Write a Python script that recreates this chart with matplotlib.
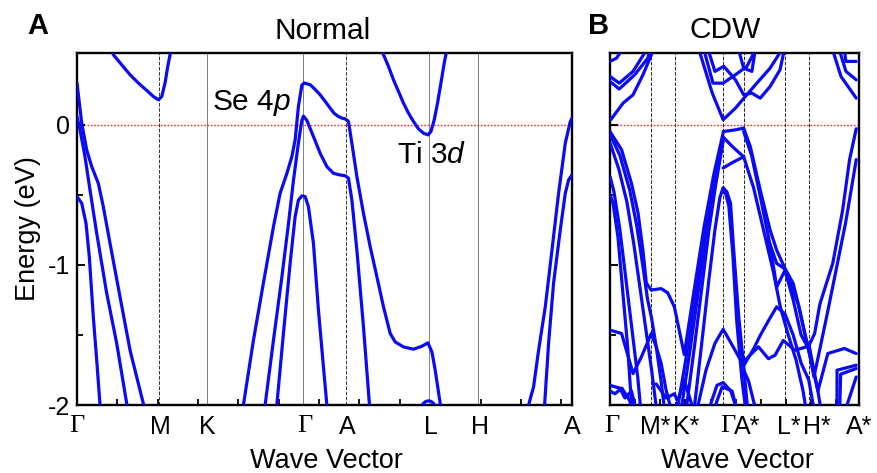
import matplotlib
matplotlib.use("Agg")
import matplotlib.pyplot as plt

plt.rcParams["font.family"] = ["Liberation Sans", "DejaVu Sans"]
plt.rcParams["mathtext.fontset"] = "custom"
plt.rcParams["mathtext.rm"] = "Liberation Sans"
plt.rcParams["mathtext.it"] = "Liberation Sans:italic"
plt.rcParams["axes.unicode_minus"] = False

# ---- Normal phase, (k path position, energy eV) ----
n_cb_m = [(34.5, 0.53), (36.3, 0.498), (44.7, 0.426), (53.0, 0.355), (61.3, 0.296), (69.7, 0.243),
          (76.3, 0.20), (81.3, 0.176), (84.7, 0.20), (88.0, 0.296), (90.7, 0.414), (93.0, 0.498), (93.8, 0.53)]
n_cb_l = [(305.0, 0.53), (306.3, 0.498), (311.3, 0.414), (316.3, 0.319), (321.3, 0.236), (326.3, 0.152),
          (331.3, 0.081), (336.3, 0.021), (341.3, -0.031), (346.3, -0.062), (350.7, -0.074), (353.7, -0.05),
          (357.0, 0.033), (360.3, 0.152), (363.7, 0.296), (367.0, 0.438), (369.5, 0.53)]
n_g0_top = [(0.0, 0.296), (4.7, 0.01), (9.7, -0.181), (14.7, -0.30), (21.3, -0.419), (26.3, -0.586),
            (33.0, -0.847), (43.0, -1.229), (53.0, -1.609), (66.3, -1.99), (67.0, -2.03)]
n_g0_mid = [(0.0, 0.057), (3.0, -0.038), (8.0, -0.229), (13.0, -0.467), (19.7, -0.776), (29.7, -1.204),
            (39.7, -1.561), (49.7, -1.99), (50.2, -2.03)]
n_g0_low = [(0.0, -0.514), (4.7, -0.561), (9.0, -0.704), (12.3, -0.943), (16.3, -1.371), (19.7, -1.68),
            (23.0, -2.0), (23.3, -2.03)]
n_g1 = [(165.5, -2.03), (166.3, -2.0), (176.3, -1.54), (186.3, -1.13), (196.3, -0.73), (203.0, -0.49),
        (209.7, -0.35), (214.7, -0.23), (218.0, -0.11), (221.3, 0.13), (224.7, 0.28), (227.0, 0.296),
        (233.0, 0.284), (238.0, 0.25), (243.0, 0.212), (248.0, 0.165), (253.0, 0.117), (257.0, 0.08),
        (261.3, 0.057), (265.0, 0.045), (268.0, 0.04), (271.3, 0.022), (274.7, -0.133), (279.7, -0.371),
        (286.3, -0.633), (293.0, -0.871), (299.7, -1.085), (306.3, -1.30), (313.0, -1.49), (318.0, -1.55),
        (326.3, -1.586), (336.3, -1.602), (344.7, -1.581), (350.7, -1.557), (354.7, -1.621), (358.0, -1.752),
        (363.0, -1.99), (363.5, -2.03)]
n_g2 = [(187.5, -2.03), (188.0, -2.0), (196.3, -1.54), (204.7, -1.09), (211.3, -0.71), (216.3, -0.40),
        (221.3, -0.13), (224.7, 0.03), (226.3, 0.06), (229.7, 0.03), (236.3, -0.086), (243.0, -0.205),
        (249.7, -0.30), (256.3, -0.348), (263.0, -0.36), (268.0, -0.365), (271.3, -0.383), (274.7, -0.538),
        (279.7, -0.895), (286.3, -1.443), (292.3, -2.0), (292.6, -2.03)]
n_g3 = [(199.3, -2.03), (199.7, -2.0), (206.3, -1.49), (213.0, -0.99), (218.0, -0.657), (221.3, -0.538),
        (224.7, -0.509), (228.0, -0.514), (231.3, -0.586), (236.3, -0.847), (241.3, -1.324), (246.3, -1.729),
        (249.7, -2.0), (250.0, -2.03)]
n_l_arc = [(343.0, -2.03), (346.0, -1.99), (348.5, -1.975), (351.3, -1.97), (354.0, -1.975), (356.5, -1.99),
           (359.5, -2.03)]
n_a1 = [(450.5, -2.03), (451.3, -2.0), (456.3, -1.87), (461.3, -1.61), (468.0, -1.30), (474.7, -0.895),
        (481.3, -0.49), (488.0, -0.133), (493.0, 0.021), (494.7, 0.046)]
n_a2 = [(467.0, -2.03), (467.3, -2.0), (471.3, -1.56), (476.3, -1.13), (483.0, -0.75), (488.0, -0.49),
        (491.3, -0.395), (494.7, -0.359)]

NORMAL_KMAX = 494.7
NORMAL_LABELS = ["\u0393", "M", "K", "\u0393", "A", "L", "H", "A"]
NORMAL_POS = [0.0, 82.3, 129.7, 226.3, 269.0, 351.3, 400.7, 494.7]

# ---- CDW phase ----
c01 = [(0.7, 0.034), (13.3, 0.153), (23.3, 0.212), (33.3, 0.355), (41.7, 0.495), (43.0, 0.53)]
c02 = [(0.0, 0.45), (6.7, 0.474), (11.7, 0.53)]
c03 = [(0.0, 0.343), (9.3, 0.295), (23.3, 0.379), (36.7, 0.53)]
c04 = [(0.0, 0.307), (9.3, 0.253), (25.0, 0.355), (38.3, 0.474), (40.0, 0.53)]
c05 = [(90.0, 0.53), (103.3, 0.224), (114.3, 0.034), (126.7, 0.117), (136.7, 0.20), (148.3, 0.295),
       (161.7, 0.402), (173.3, 0.53)]
c06 = [(95.0, 0.53), (104.0, 0.295), (114.3, 0.295), (126.7, 0.355), (138.3, 0.415), (146.7, 0.53)]
c07 = [(99.3, 0.53), (106.0, 0.379), (115.0, 0.415), (126.7, 0.319), (135.0, 0.212), (143.3, 0.224),
       (151.7, 0.188), (161.7, 0.271), (171.7, 0.39), (176.0, 0.53)]
c08 = [(130.0, 0.53), (135.0, 0.402), (143.3, 0.379), (146.7, 0.53)]
c09 = [(225.0, 0.53), (233.3, 0.343), (248.7, 0.188)]
c10 = [(231.7, 0.53), (238.3, 0.379), (248.7, 0.319)]
c11 = [(236.7, 0.53), (238.3, 0.45), (248.7, 0.45)]
c12 = [(0.0, -0.05), (11.7, -0.18), (21.7, -0.42), (28.3, -0.63), (33.3, -0.90), (36.7, -1.13),
       (41.7, -1.18), (51.7, -1.17), (58.3, -1.20), (65.0, -1.30), (75.0, -1.64), (85.0, -1.18),
       (95.0, -0.73), (105.0, -0.35), (114.3, -0.06)]
c13 = [(0.0, -0.07), (10.0, -0.22), (20.0, -0.47), (27.0, -0.72), (33.0, -1.0), (38.0, -1.25),
       (42.0, -1.38), (47.0, -1.60), (52.0, -1.85), (55.0, -2.03)]
c14 = [(0.0, -0.13), (9.0, -0.32), (17.0, -0.55), (24.0, -0.85), (30.0, -1.15), (36.0, -1.45),
       (42.0, -1.75), (47.0, -2.03)]
c15 = [(0.0, -0.37), (4.0, -0.48), (10.0, -0.75), (16.0, -1.10), (22.0, -1.45), (28.0, -1.80), (31.0, -2.03)]
c16 = [(0.0, -0.50), (3.0, -0.56), (8.0, -0.80), (13.0, -1.20), (18.0, -1.60), (22.0, -2.03)]
c17 = [(0.0, -1.466), (11.7, -1.49), (23.3, -1.776), (31.7, -1.657), (41.7, -1.49), (46.7, -1.585),
       (51.7, -1.704), (56.7, -1.895), (61.7, -2.03)]
c18 = [(0.0, -1.86), (10.0, -1.88), (15.0, -1.95), (21.7, -1.90), (26.0, -2.03)]
c19 = [(72.0, -2.03), (80.0, -1.65), (88.0, -1.25), (96.0, -0.85), (104.0, -0.50), (110.0, -0.25),
       (114.3, -0.09)]
c20 = [(77.0, -2.03), (85.0, -1.60), (93.0, -1.15), (100.0, -0.75), (107.0, -0.42), (114.3, -0.12)]
c21 = [(85.0, -2.03), (92.0, -1.60), (100.0, -1.10), (106.0, -0.75), (111.0, -0.52), (114.3, -0.45),
       (118.0, -0.48), (121.7, -0.56), (125.0, -0.90), (130.0, -1.37), (135.0, -1.72), (139.0, -2.03)]
c22 = [(88.0, -2.03), (97.0, -1.75), (106.0, -1.56), (114.3, -1.46), (124.0, -1.58), (135.0, -1.72),
       (145.0, -1.60), (152.0, -1.50), (160.0, -1.40), (168.3, -1.30), (176.7, -1.35), (185.0, -1.50),
       (193.0, -1.70), (200.7, -1.82), (206.0, -2.03)]
c23 = [(114.3, -0.05), (125.0, -0.04), (135.0, -0.026)]
c24 = [(114.3, -0.09), (124.0, -0.16), (135.0, -0.23)]
c25 = [(114.3, -0.31), (124.0, -0.27), (135.0, -0.23)]
c26 = [(135.0, -0.026), (141.7, -0.157), (151.7, -0.466), (161.7, -0.752), (168.3, -0.895),
       (176.7, -1.026), (185.0, -1.133), (191.7, -1.324), (198.3, -1.538), (200.7, -1.58), (206.7, -1.49),
       (212.0, -1.28), (225.0, -0.99), (235.0, -0.61), (242.0, -0.25), (248.7, -0.03)]
c27 = [(135.0, -0.05), (143.0, -0.22), (152.0, -0.52), (160.0, -0.80), (166.0, -1.05), (168.3, -1.16),
       (176.7, -1.04), (185.0, -1.25), (193.0, -1.50), (200.7, -1.60), (206.0, -1.80), (212.0, -1.60),
       (220.0, -1.33), (230.0, -0.98), (238.0, -0.70), (244.0, -0.45), (248.7, -0.25)]
c28 = [(135.0, -0.23), (145.0, -0.45), (155.0, -0.75), (165.0, -1.05), (172.0, -1.30), (180.0, -1.50),
       (188.0, -1.68), (195.0, -1.90), (198.0, -2.03)]
c29 = [(66.0, -2.03), (75.0, -1.82), (84.0, -2.03)]
c31 = [(0.0, -1.90), (5.0, -1.92), (12.0, -1.88), (20.0, -1.97), (22.0, -2.03)]
c32 = [(100.0, -2.03), (108.0, -1.86), (114.3, -1.84), (122.0, -1.90), (128.0, -2.03)]
c33 = [(135.0, -1.75), (140.0, -1.83), (147.0, -2.03)]
c35 = [(200.7, -1.56), (210.0, -1.90), (220.0, -1.633), (236.7, -1.597), (248.7, -1.633)]
c36 = [(229.3, -2.03), (229.3, -1.752), (248.7, -1.716)]
c37 = [(232.0, -2.03), (233.0, -1.78), (248.7, -1.74)]
c38 = [(238.0, -2.03), (248.7, -1.80)]
c39 = [(135.0, -1.69), (150.0, -1.585), (160.0, -1.67), (166.7, -1.645), (175.0, -1.54), (186.7, -1.61),
       (200.7, -1.58)]
c40 = [(160.0, -0.82), (168.3, -0.99), (176.7, -1.03), (190.0, -1.28), (198.3, -1.54), (210.0, -1.90),
       (213.0, -2.03)]
c41 = [(116.0, -0.47), (120.0, -0.58), (124.0, -0.92), (128.0, -1.40), (133.0, -1.80), (137.0, -2.03)]
c43 = [(46.7, -1.85), (56.7, -1.95), (65.0, -1.92), (72.0, -2.03)]
c44 = [(68.0, -2.03), (76.0, -1.70), (84.0, -1.35), (92.0, -0.95), (100.0, -0.60), (108.0, -0.30),
       (114.3, -0.10)]
c45 = [(105.0, -2.03), (113.3, -1.87), (123.3, -1.90), (128.0, -2.03)]

CDW_KMAX = 248.7
CDW_LABELS = ["\u0393", "M*", "K*", "\u0393", "A*", "L*", "H*", "A*"]
CDW_POS = [0.0, 41.7, 66.0, 114.3, 135.0, 176.7, 200.7, 248.7]

W, H = 877, 473
BLUE = "#0a0af5"


def setup_axes(ax, kmax, lines, labels, pos, label_shift, minor_step, vline_styles, ylabels):
    ax.set_xlim(0, kmax)
    ax.set_ylim(-2.0, 0.51)
    for x, (ls, col) in zip(pos[1:-1], vline_styles):
        ax.axvline(x, color=col, lw=0.7, ls=ls, zorder=1)
    ax.axhline(0, color="#ff2a2a", lw=1.0, ls=(0, (1.2, 1.2)), zorder=1)
    for band in lines:
        ks = [p[0] for p in band]
        es = [p[1] for p in band]
        ax.plot(ks, es, color=BLUE, lw=2.3, solid_joinstyle="round", solid_capstyle="round", zorder=3)

    ax.set_xticks([p + s for p, s in zip(pos, label_shift)])
    ax.set_xticklabels(labels)
    ax.set_xticks([minor_step * i for i in range(1, int(kmax / minor_step) + 1)], minor=True)
    ax.tick_params(axis="x", which="major", length=0, pad=7, labelsize=18)
    ax.tick_params(axis="x", which="minor", direction="in", length=4, width=1.3)
    for t in ax.get_xticklabels():
        if t.get_text() == "\u0393":
            t.set_fontfamily("Liberation Serif")
            t.set_fontsize(19)

    ax.set_yticks([-2, -1, 0])
    ax.set_yticks([-1.5, -0.5], minor=True)
    if ylabels:
        ax.set_yticklabels(["-2", "-1", "0"])
    else:
        ax.set_yticklabels([])
    ax.tick_params(axis="y", which="major", direction="in", length=6, width=1.4, pad=5, labelsize=18)
    ax.tick_params(axis="y", which="minor", direction="in", length=4, width=1.3)
    for s in ax.spines.values():
        s.set_linewidth(1.7)


fig = plt.figure(figsize=(W / 100, H / 100), dpi=100)
ax1 = fig.add_axes([77 / W, 1 - 405 / H, 495 / W, 352 / H])
ax2 = fig.add_axes([610 / W, 1 - 405 / H, 248.7 / W, 352 / H])

normal_bands = [n_cb_m, n_cb_l, n_g0_top, n_g0_mid, n_g0_low, n_g1, n_g2, n_g3, n_l_arc, n_a1, n_a2]
cdw_bands = [c01, c02, c03, c04, c05, c06, c07, c08, c09, c10, c11, c12, c13, c14, c15, c16, c17, c18,
             c19, c20, c21, c22, c23, c24, c25, c26, c27, c28, c29, c31, c32, c33, c35, c36, c37, c38,
             c39, c40, c41, c43, c44, c45]

normal_vl = [("--", "0.2"), ("-", "0.5"), ("-", "0.5"), ("--", "0.2"), ("-", "0.5"), ("-", "0.5")]
cdw_vl = [("--", "0.15")] * 6

setup_axes(ax1, NORMAL_KMAX, normal_bands, NORMAL_LABELS, NORMAL_POS, [0, 1, 1, 1, 1, 2, 2, 0],
           40.33, normal_vl, True)
setup_axes(ax2, CDW_KMAX, cdw_bands, CDW_LABELS, CDW_POS, [2, 3.5, 11, 4.5, 3.5, 3.5, 8.5, 2.5],
           25.4, cdw_vl, False)

ax1.text(135, 0.105, "Se 4$p$", fontsize=21.5, ha="left", va="baseline")
ax1.text(320, -0.274, "Ti 3$d$", fontsize=21.5, ha="left", va="baseline")

fig.text(323 / W, 1 - 39 / H, "Normal", fontsize=21.5, ha="center", va="baseline")
fig.text(725 / W, 1 - 37.5 / H, "CDW", fontsize=21.5, ha="center", va="baseline")
fig.text(38 / W, 1 - 33.5 / H, "A", fontsize=21, fontweight="bold", ha="center", va="baseline")
fig.text(599 / W, 1 - 33.5 / H, "B", fontsize=21, fontweight="bold", ha="center", va="baseline")
fig.text(326 / W, 1 - 468 / H, "Wave Vector", fontsize=19.5, ha="center", va="baseline")
fig.text(737 / W, 1 - 468 / H, "Wave Vector", fontsize=19.5, ha="center", va="baseline")
fig.text(28 / W, 1 - 229 / H, "Energy (eV)", fontsize=19.5, ha="center", va="center", rotation=90)

fig.savefig("out.png", dpi=100)
